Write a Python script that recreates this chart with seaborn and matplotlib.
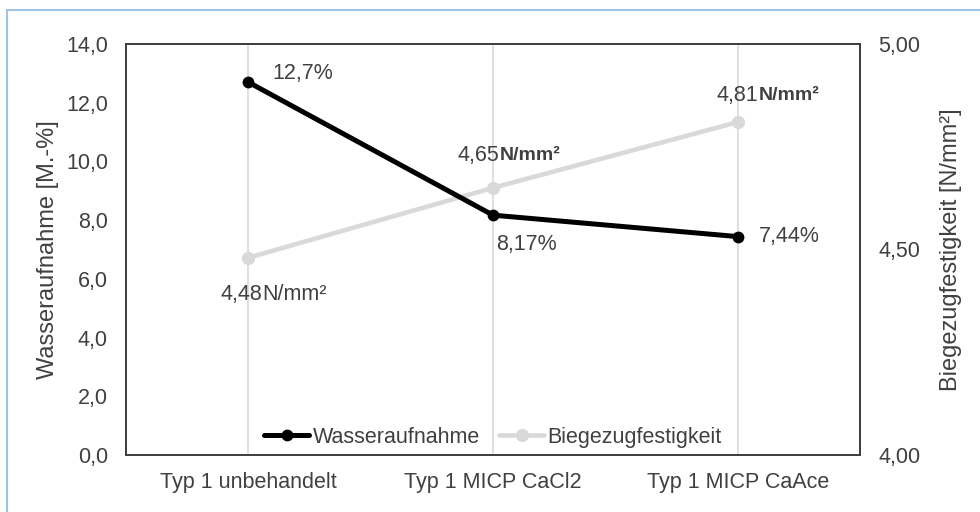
import numpy as np
import seaborn as sns
import pandas as pd
import matplotlib.pyplot as plt
from matplotlib.ticker import FuncFormatter

kategorien = ["Typ 1 unbehandelt", "Typ 1 MICP CaCl2", "Typ 1 MICP CaAce"]
wasseraufnahme = [12.7, 8.17, 7.44]
biegezug = [4.48, 4.65, 4.81]
wasser_labels = ["12,7%", "8,17%", "7,44%"]
biege_labels = ["4,48", "4,65", "4,81"]

sns.set_style("white")
plt.rcParams['font.family'] = ['Liberation Sans', 'DejaVu Sans']
txt = "#404040"
fs = 15.5

fig = plt.figure(figsize=(9.8, 5.12), dpi=100)
ax = fig.add_axes([126/980, 57/512, 734/980, 411/512])
ax2 = ax.twinx()

df = pd.DataFrame({"kat": kategorien, "wasser": wasseraufnahme, "biege": biegezug})

sns.lineplot(data=df, x="kat", y="biege", ax=ax2, color="#d9d9d9", linewidth=3.3,
             marker="o", markersize=9.5, markeredgewidth=0, label="Biegezugfestigkeit", sort=False)
sns.lineplot(data=df, x="kat", y="wasser", ax=ax, color="black", linewidth=3.6,
             marker="o", markersize=8.5, markeredgewidth=0, label="Wasseraufnahme", sort=False)

for a in (ax, ax2):
    if a.get_legend():
        a.get_legend().remove()

# black line should be on top of the gray one
ax.set_zorder(ax2.get_zorder() + 1)
ax.patch.set_visible(False)

ax.set_xlim(-0.5, 2.5)
ax.set_ylim(0, 14)
ax.set_yticks(np.arange(0, 15, 2))
ax2.set_ylim(4.0, 5.0)
ax2.set_yticks([4.0, 4.5, 5.0])
ax.yaxis.set_major_formatter(FuncFormatter(lambda v, p: f"{v:.1f}".replace(".", ",")))
ax2.yaxis.set_major_formatter(FuncFormatter(lambda v, p: f"{v:.2f}".replace(".", ",")))

for xv in range(len(kategorien)):
    ax2.axvline(xv, color="#d9d9d9", linewidth=1.2, zorder=0)

ax.set_xlabel("")
ax.set_ylabel("Wasseraufnahme [M.-%]", fontsize=17, color=txt, labelpad=5)
ax2.set_ylabel("Biegezugfestigkeit [N/mm²]", fontsize=17, color=txt, labelpad=14)
ax.tick_params(axis="y", length=0, labelsize=fs, labelcolor=txt, pad=13)
ax.tick_params(axis="x", length=0, labelsize=fs, labelcolor=txt, pad=12)
ax2.tick_params(axis="y", length=0, labelsize=fs, labelcolor=txt, pad=13)

for a in (ax, ax2):
    for s in a.spines.values():
        s.set_visible(True)
        s.set_color("#404040")
        s.set_linewidth(1.3)

# Wasseraufnahme labels
w_off = [(24, 9), (3, -29), (21, 0)]
for i, (v, lab) in enumerate(zip(wasseraufnahme, wasser_labels)):
    dx, dy = w_off[i]
    ax.annotate(lab, (i, v), xytext=(dx, dy), textcoords="offset pixels",
                ha="left", va="center", fontsize=fs, color=txt)

# Biegezug labels, unit in bold for the last two
b_off = [(-28, -37, False), (-35, 32, True), (-21, 27, True)]
for i, (v, lab) in enumerate(zip(biegezug, biege_labels)):
    dx, dy, bold = b_off[i]
    t = ax2.annotate(lab, (i, v), xytext=(dx, dy), textcoords="offset pixels",
                     ha="left", va="center", fontsize=fs, color=txt)
    ax2.annotate("N/mm²", xy=(1, 0.5), xycoords=t, xytext=(0, 0), textcoords="offset pixels",
                 ha="left", va="center", fontsize=14 if bold else fs,
                 fontweight="bold" if bold else "normal", color=txt)

handles = ax.lines[:1] + ax2.lines[:1]
leg = ax.legend(handles, ["Wasseraufnahme", "Biegezugfestigkeit"], loc="lower center",
                bbox_to_anchor=(0.5, -0.03), ncol=2, frameon=False, fontsize=fs,
                handlelength=2.1, handletextpad=0.15, columnspacing=0.9)
for t in leg.get_texts():
    t.set_color(txt)

# light blue outer border
fig.add_artist(plt.Line2D([7/980, 1], [1 - 10/512, 1 - 10/512], transform=fig.transFigure,
                          color="#9dc3e6", linewidth=1.5))
fig.add_artist(plt.Line2D([7/980, 7/980], [0, 1 - 10/512], transform=fig.transFigure,
                          color="#9dc3e6", linewidth=1.5))

fig.savefig("out.png", dpi=100)
